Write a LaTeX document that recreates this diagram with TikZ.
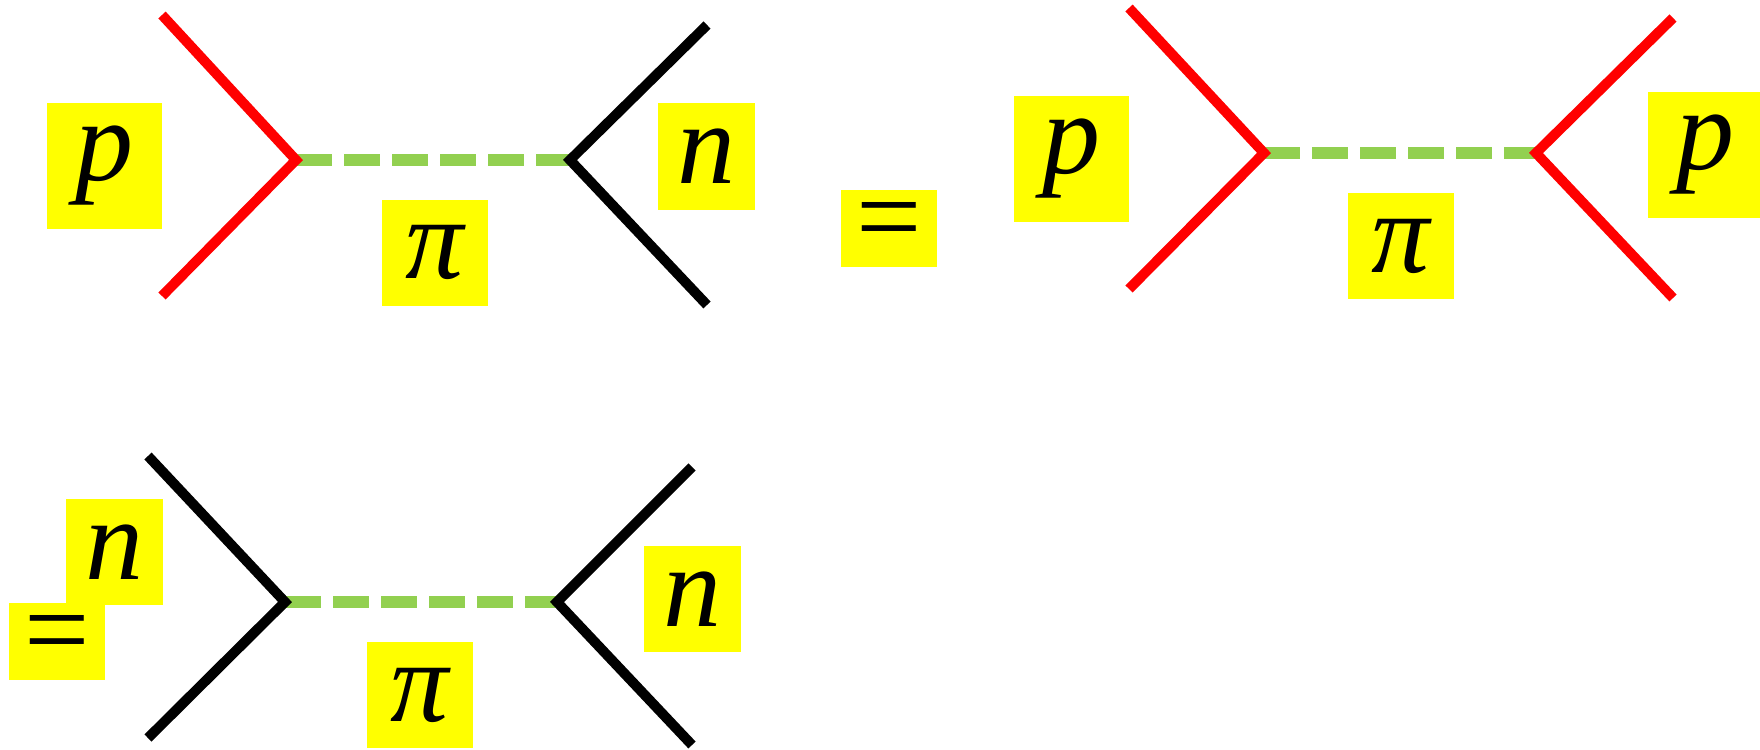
\documentclass[tikz,border=0pt]{standalone}
\usepackage{fontspec}
\setmainfont{Liberation Serif}
\usetikzlibrary{positioning}
\definecolor{pigreen}{RGB}{146,208,80}
\definecolor{tagyellow}{RGB}{255,255,0}

\begin{document}
\begin{tikzpicture}[
    x=1pt, y=-1pt,
    tag/.style={fill=tagyellow, inner sep=0pt, font=\fontsize{116}{120}\selectfont\itshape},
    ptag/.style={tag, minimum width=115pt, minimum height=126pt},
    ntag/.style={tag, minimum width=97pt, minimum height=106pt},
    pitag/.style={tag, minimum width=106pt, minimum height=106pt},
    eqtag/.style={tag, font=\fontsize{116}{120}\selectfont, minimum width=96pt, minimum height=77pt},
    proton/.style={draw=red, line width=10pt, line join=miter},
    neutron/.style={draw=black, line width=10pt, line join=miter},
    pion/.style={draw=pigreen, line width=12.5pt, dash pattern=on 36pt off 12pt}
]
\useasboundingbox (0,0) rectangle (1760,749);

% p n exchange
\coordinate (pnInTop) at (162,15);
\coordinate (pnInBot) at (162,296);
\coordinate (pnLeft) at (296,160);
\coordinate (pnRight) at (570,160);
\coordinate (pnOutTop) at (707,25);
\coordinate (pnOutBot) at (707,305);

\node[ptag] (pnP) at (104.5,166) {p};
\node[pitag] (pnPi) at (435,252.5) {π};
\node[ntag] (pnN) at (706.5,156.5) {n};

\draw[pion] (pnLeft) -- (pnRight);
\draw[proton] (pnInTop) -- (pnLeft) -- (pnInBot);
\draw[neutron] (pnOutTop) -- (pnRight) -- (pnOutBot);

% p p exchange
\node[eqtag] (eqTop) at (889,228.5) {=};

\coordinate (ppInTop) at (1129,8);
\coordinate (ppInBot) at (1129,289);
\coordinate (ppLeft) at (1264,153);
\coordinate (ppRight) at (1536,153);
\coordinate (ppOutTop) at (1673,18);
\coordinate (ppOutBot) at (1673,298);

\node[ptag] (ppP) at (1071.5,159) {p};
\node[pitag] (ppPi) at (1401,246) {π};
\node[ptag] (ppQ) at (1705.5,155) {p};

\draw[pion] (ppLeft) -- (ppRight);
\draw[proton] (ppInTop) -- (ppLeft) -- (ppInBot);
\draw[proton] (ppOutTop) -- (ppRight) -- (ppOutBot);

% n n exchange
\coordinate (nnInTop) at (148,456);
\coordinate (nnInBot) at (148,738);
\coordinate (nnLeft) at (285,602);
\coordinate (nnRight) at (557,602);
\coordinate (nnOutTop) at (692,467);
\coordinate (nnOutBot) at (692,745);

\node[ntag] (nnN) at (114.5,552) {n};
\node[eqtag] (eqBot) at (57,641.5) {=};
\node[pitag] (nnPi) at (420,695) {π};
\node[ntag] (nnM) at (692.5,599) {n};

\draw[pion] (nnLeft) -- (nnRight);
\draw[neutron] (nnInTop) -- (nnLeft) -- (nnInBot);
\draw[neutron] (nnOutTop) -- (nnRight) -- (nnOutBot);

\end{tikzpicture}
\end{document}
